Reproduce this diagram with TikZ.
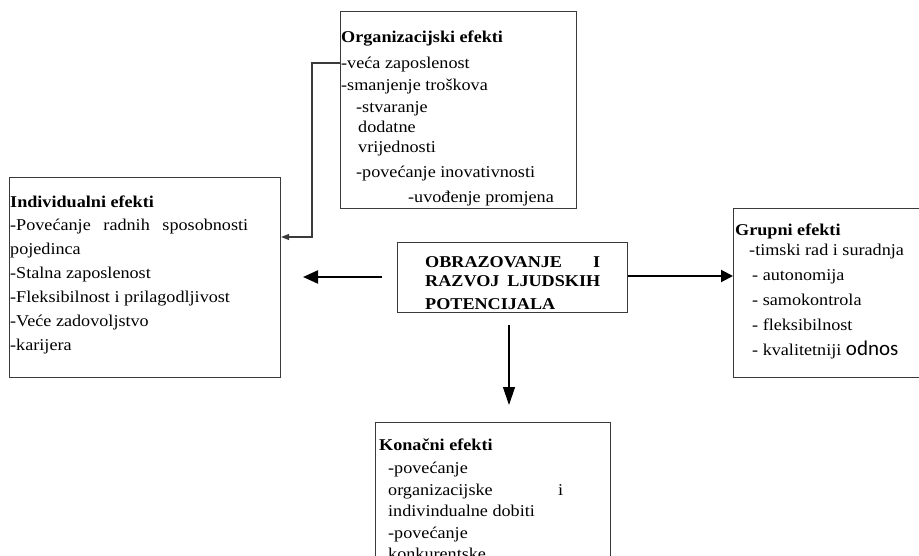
\documentclass[tikz,border=0pt]{standalone}
\usepackage{fontspec}
\setmainfont{Liberation Serif}[FakeStretch=1.1]
\newfontfamily\odnosfont{Carlito}
\usetikzlibrary{arrows.meta,calc}
\definecolor{boxgray}{HTML}{3A3A3A}
\begin{document}
\begin{tikzpicture}[x=1pt,y=-1pt,
  box/.style={draw=boxgray, line width=1.1pt, inner sep=0pt, anchor=north west},
  txt/.style={inner sep=0pt, anchor=north west, align=left},
  thinarrow/.style={draw=boxgray, line width=1.1pt, -{Triangle[length=8pt,width=6pt]}},
  bigarrow/.style={draw=black, line width=2pt, -{Triangle[length=15pt,width=13pt]}},
  midarrow/.style={draw=black, line width=2pt, -{Triangle[length=12pt,width=12pt]}},
  downarrow/.style={draw=black, line width=1.3pt, -{Triangle[length=18pt,width=12pt]}}]
\path[use as bounding box, clip] (0,0) rectangle (919,556);
\fill[white] (0,0) rectangle (919,556);

% boxes
\node[box, minimum width=236pt, minimum height=197pt] (org) at (340,11) {};
\node[box, minimum width=271pt, minimum height=200pt] (ind) at (9,177) {};
\node[box, minimum width=230pt, minimum height=70pt] (ctr) at (397,242) {};
\node[box, minimum width=190pt, minimum height=169pt] (grp) at (733,208) {};
\node[box, minimum width=235pt, minimum height=160pt] (kon) at (375,422) {};

% texts
\node[txt, font=\fontsize{16.5}{22}\selectfont] (orgtxt) at (341,31)
 {\textbf{Organizacijski efekti}\\[4pt]
  -veća zaposlenost\\
  -smanjenje troškova\\
  \hspace*{15pt}-stvaranje\\[-2pt]
  \hspace*{17pt}dodatne\\[-2pt]
  \hspace*{17pt}vrijednosti\\[3pt]
  \hspace*{15pt}-povećanje inovativnosti\\[3pt]
  \hspace*{67pt}-uvođenje promjena};

\node[txt, font=\fontsize{16.5}{24}\selectfont] (indtxt) at (10,196)
 {\textbf{Individualni efekti}\\[-1pt]
  \makebox[238pt][s]{-Povećanje radnih sposobnosti}\\
  pojedinca\\
  -Stalna zaposlenost\\
  -Fleksibilnost i prilagodljivost\\
  -Veće zadovoljstvo\\
  -karijera};

\node[txt, font=\bfseries\fontsize{16.5}{21}\selectfont] (ctrtxt) at (425,256)
 {\hbox to 175pt{OBRAZOVANJE\hfill I}\\[-2pt]
  \hbox to 175pt{RAZVOJ\hfill LJUDSKIH}\\[2pt]
  POTENCIJALA};

\node[txt, font=\fontsize{16.5}{25}\selectfont] (grptxt) at (735,224)
 {\textbf{Grupni efekti}\\[-5pt]
  \hspace*{14pt}-timski rad i suradnja\\
  \hspace*{17pt}- autonomija\\
  \hspace*{17pt}- samokontrola\\
  \hspace*{17pt}- fleksibilnost\\
  \hspace*{17pt}- kvalitetniji {\odnosfont\fontsize{21}{25}\selectfont odnos}};

\node[txt, font=\fontsize{16.5}{21.5}\selectfont] (kontxt) at (379,439)
 {\textbf{Konačni efekti}\\[1.5pt]
  \hspace*{9pt}-povećanje\\
  \hspace*{9pt}\makebox[175pt][s]{organizacijske i}\\
  \hspace*{9pt}indivindualne dobiti\\
  \hspace*{9pt}-povećanje\\
  \hspace*{9pt}konkurentske};

% connectors
\coordinate (bend) at (312,63);
\draw[thinarrow] (org.north west |- bend) -- (bend) |- (ind.east |- 0,237);

\coordinate (lstart) at (382,277);
\coordinate (lend) at (303,277);
\draw[bigarrow] (lstart) -- (lend);

\draw[midarrow] (ctr.east |- 0,276) -- (grp.west |- 0,276);

\coordinate (dstart) at (509,325);
\coordinate (dend) at (509,405);
\draw[downarrow] (dstart) -- (dend);
\end{tikzpicture}
\end{document}
